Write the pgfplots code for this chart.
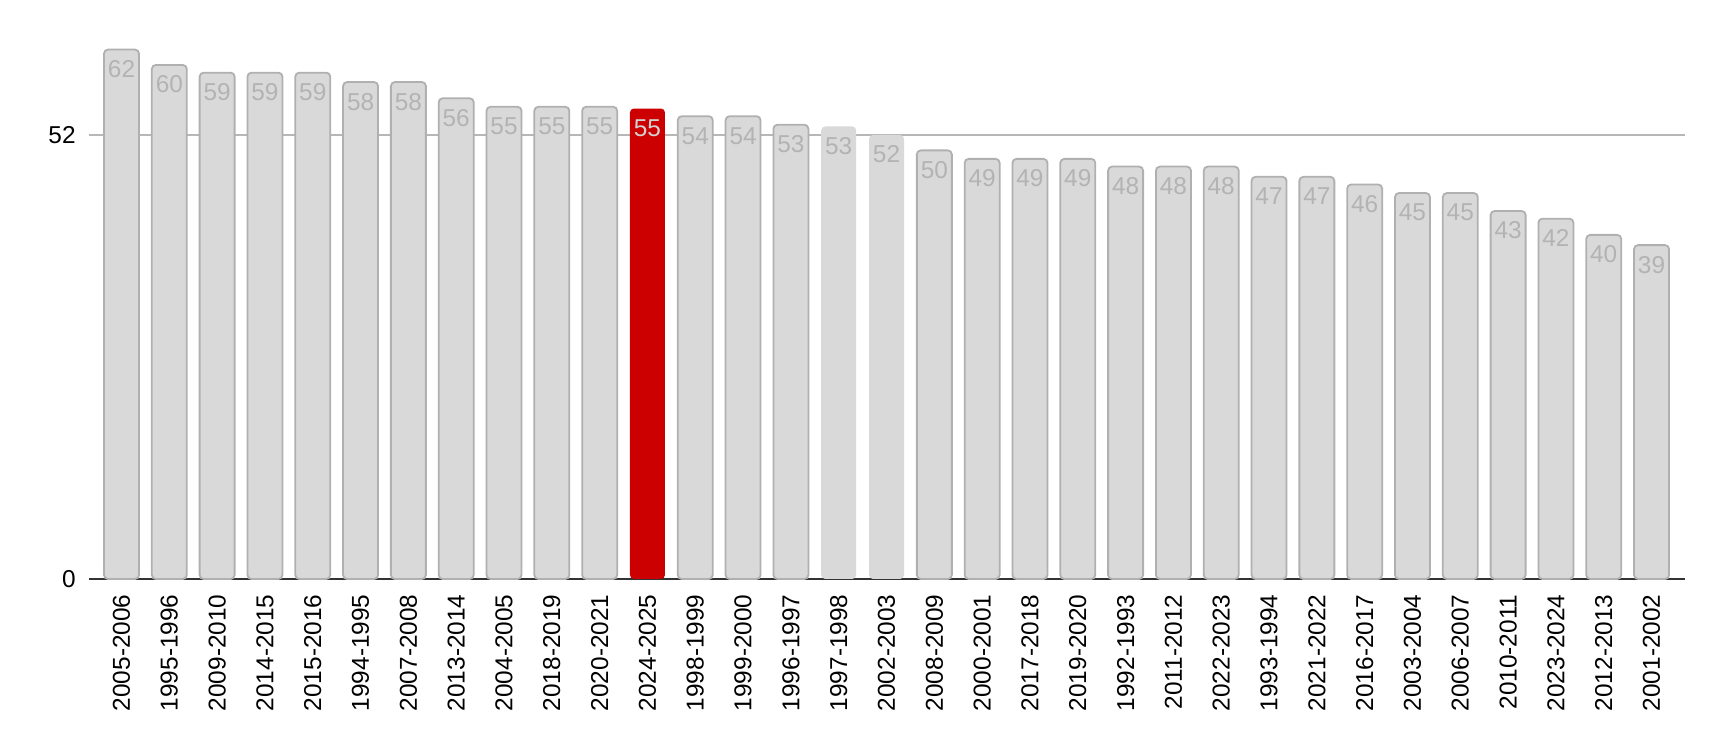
\documentclass[border=0pt]{standalone}
\usepackage{fontspec}
\setmainfont{Liberation Sans}
\usepackage{pgfplots}
\pgfplotsset{compat=1.18}
\definecolor{barfill}{HTML}{D9D9D9}
\definecolor{barline}{HTML}{B0B0B0}
\definecolor{hired}{HTML}{CC0000}
\definecolor{gridc}{HTML}{B7B7B7}
\definecolor{basec}{HTML}{333333}
\definecolor{lblgray}{HTML}{B3B3B3}
\definecolor{lbllight}{HTML}{D2D2D2}
\begin{document}
\begin{tikzpicture}
\path[use as bounding box] (0,0) rectangle (861pt,371pt);
\begin{axis}[
  at={(44.5pt,81.5pt)}, anchor=south west,
  scale only axis, width=798pt, height=264.7pt,
  xmin=-0.68, xmax=32.7, ymin=0, ymax=62,
  clip=false,
  ybar, bar width=17.5pt,
  axis lines*=left,
  y axis line style={draw=none},
  x axis line style={color=basec, line width=1pt},
  tick style={draw=none},
  ytick={0,52},
  ymajorgrids,
  major grid style={color=gridc, line width=0.6pt},
  /pgf/number format/assume math mode=true,
  tick label style={font=\fontsize{12.2}{14}\selectfont, color=black},
  yticklabel style={inner sep=0pt, xshift=-6.5pt},
  xtick={0,...,32},
  xticklabels={2005-2006,1995-1996,2009-2010,2014-2015,2015-2016,1994-1995,2007-2008,2013-2014,2004-2005,2018-2019,2020-2021,2024-2025,1998-1999,1999-2000,1996-1997,1997-1998,2002-2003,2008-2009,2000-2001,2017-2018,2019-2020,1992-1993,2011-2012,2022-2023,1993-1994,2021-2022,2016-2017,2003-2004,2006-2007,2010-2011,2023-2024,2012-2013,2001-2002},
  xticklabel style={rotate=90, anchor=east, inner sep=0pt, xshift=-3.3pt},
  nodes near coords={\pgfmathprintnumber[fixed,precision=0]{\pgfplotspointmeta}},
  every node near coord/.append style={anchor=center, yshift=-9.8pt, font=\fontsize{12.2}{14}\selectfont},
]
\addplot[bar shift=0pt, fill=barfill, draw=barline, line width=0.9pt, rounded corners=2pt,
  every node near coord/.append style={color=lblgray}] coordinates {
(0,62.0) (1,60.2) (2,59.3) (3,59.3) (4,59.3) (5,58.2) (6,58.2) (7,56.3) (8,55.3) (9,55.3) (10,55.3)
(12,54.2) (13,54.2) (14,53.2)
(17,50.2) (18,49.2) (19,49.2) (20,49.2) (21,48.3) (22,48.3) (23,48.3) (24,47.1) (25,47.1) (26,46.2)
(27,45.2) (28,45.2) (29,43.1) (30,42.2) (31,40.3) (32,39.1)
};
\addplot[bar shift=0pt, fill=barfill, draw=none, rounded corners=2pt,
  every node near coord/.append style={color=lblgray}] coordinates {
(15,53.0) (16,52.0)
};
\addplot[bar shift=0pt, fill=hired, draw=none, rounded corners=2pt,
  every node near coord/.append style={color=lbllight}] coordinates {
(11,55.1)
};
\end{axis}
\end{tikzpicture}
\end{document}
